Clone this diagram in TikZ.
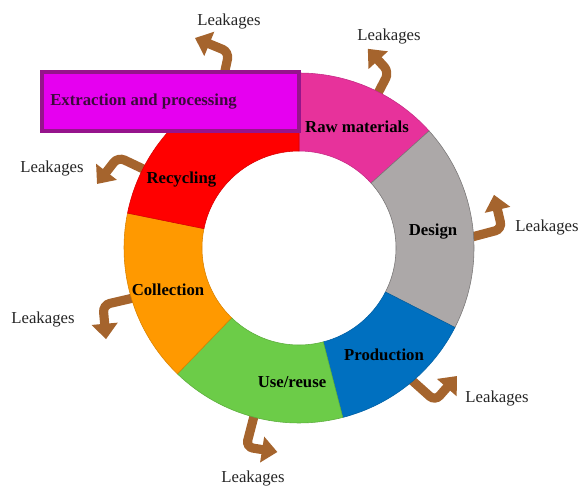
\documentclass[tikz,border=0pt]{standalone}
\usepackage{fontspec}
\setmainfont{Liberation Serif}
\usetikzlibrary{arrows.meta}
\definecolor{rawcol}{RGB}{231,50,155}
\definecolor{designcol}{RGB}{172,168,168}
\definecolor{prodcol}{RGB}{0,112,192}
\definecolor{usecol}{RGB}{108,204,72}
\definecolor{collcol}{RGB}{255,153,0}
\definecolor{recyccol}{RGB}{255,0,0}
\definecolor{boxcol}{RGB}{230,0,240}
\definecolor{boxline}{RGB}{150,20,140}
\definecolor{boxtext}{RGB}{60,10,60}
\definecolor{leakcol}{RGB}{165,100,45}
\tikzset{
  leak/.style={draw=leakcol,line width=6.5pt,rounded corners=5pt,-{Triangle[width=18pt,length=11pt]}},
  stage/.style={font=\fontsize{11.9pt}{14pt}\selectfont\bfseries},
  leaktext/.style={font=\fontsize{11.9pt}{14pt}\selectfont,text=black!85}
}

\begin{document}
\begin{tikzpicture}
\useasboundingbox (-7.475,-5.925) rectangle (7.025,6.2);

% leakage arrows
\coordinate (a1s) at (-1.9,4.2); \coordinate (a1b) at (-1.75,4.9); \coordinate (a1t) at (-2.6,5.25);
\coordinate (a2s) at (63:4.1); \coordinate (a2b) at (2.25,4.4); \coordinate (a2t) at (1.72,4.98);
\coordinate (a3s) at (3:4.1); \coordinate (a3b) at (5.075,0.475); \coordinate (a3t) at (4.875,1.33);
\coordinate (a4s) at (153:4.1); \coordinate (a4b) at (-4.525,2.275); \coordinate (a4t) at (-5.05,1.6);
\coordinate (a5s) at (197:4.1); \coordinate (a5b) at (-4.9,-1.425); \coordinate (a5t) at (-4.825,-2.28);
\coordinate (a6s) at (255:4.1); \coordinate (a6b) at (-1.325,-4.975); \coordinate (a6t) at (-0.54,-5.1);
\coordinate (a7s) at (-50:4.1); \coordinate (a7b) at (3.4,-3.825); \coordinate (a7t) at (3.95,-3.2);
\draw[leak] (a1s) -- (a1b) -- (a1t); \draw[leak] (a2s) -- (a2b) -- (a2t); \draw[leak] (a3s) -- (a3b) -- (a3t);
\draw[leak] (a4s) -- (a4b) -- (a4t); \draw[leak] (a5s) -- (a5b) -- (a5t); \draw[leak] (a6s) -- (a6b) -- (a6t);
\draw[leak] (a7s) -- (a7b) -- (a7t);

% ring
\fill[rawcol,draw=rawcol!85!black] (90:4.375) arc (90:42:4.375) -- (42:2.425) arc (42:90:2.425) -- cycle;
\fill[designcol,draw=designcol!70!black] (42:4.375) arc (42:-27:4.375) -- (-27:2.425) arc (-27:42:2.425) -- cycle;
\fill[prodcol,draw=prodcol!85!black] (-27:4.375) arc (-27:-75.5:4.375) -- (-75.5:2.425) arc (-75.5:-27:2.425) -- cycle;
\fill[usecol,draw=usecol!85!black] (-75.5:4.375) arc (-75.5:-134:4.375) -- (-134:2.425) arc (-134:-75.5:2.425) -- cycle;
\fill[collcol,draw=collcol!85!black] (226:4.375) arc (226:168.5:4.375) -- (168.5:2.425) arc (168.5:226:2.425) -- cycle;
\fill[recyccol,draw=recyccol!85!black] (168.5:4.375) arc (168.5:90:4.375) -- (90:2.425) arc (90:168.5:2.425) -- cycle;

\draw[boxline,fill=boxcol,line width=2.5pt] (-6.425,2.925) rectangle (0,4.4);

\node[stage] (raw) at (1.45,3.025) {Raw materials};
\node[stage] (design) at (3.35,0.4) {Design};
\node[stage] (prod) at (2.125,-2.675) {Production};
\node[stage] (use) at (-0.175,-3.35) {Use/reuse};
\node[stage] (coll) at (-3.275,-1.05) {Collection};
\node[stage] (recyc) at (-2.94,1.7) {Recycling};
\node[stage,anchor=west,inner sep=0pt,text=boxtext] (extract) at (-6.225,3.65) {Extraction and processing};

\node[leaktext] (leak1) at (-1.75,5.65) {Leakages};
\node[leaktext] (leak2) at (2.25,5.275) {Leakages};
\node[leaktext] (leak3) at (6.2,0.5) {Leakages};
\node[leaktext] (leak4) at (-6.175,1.975) {Leakages};
\node[leaktext] (leak5) at (-6.4,-1.775) {Leakages};
\node[leaktext] (leak6) at (-1.15,-5.75) {Leakages};
\node[leaktext] (leak7) at (4.95,-3.75) {Leakages};
\end{tikzpicture}
\end{document}
